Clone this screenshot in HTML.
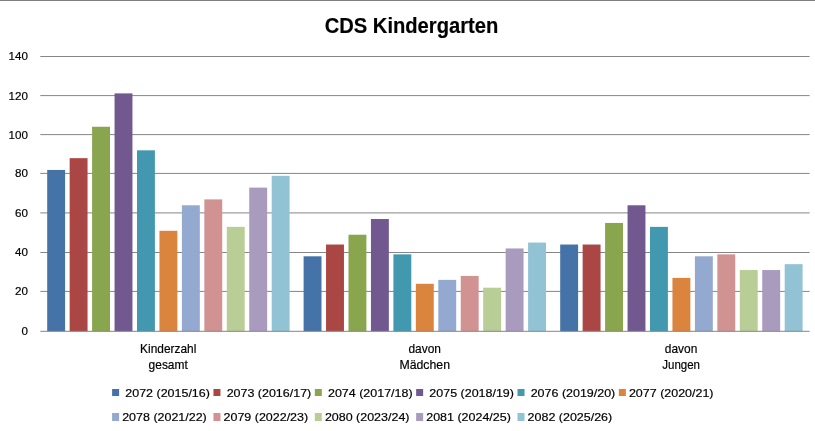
<!DOCTYPE html>
<html lang="de">
<head>
<meta charset="utf-8">
<title>CDS Kindergarten</title>
<style>
html,body{margin:0;padding:0;background:#fff;}
body{width:815px;height:431px;overflow:hidden;}
svg{display:block;}
svg text{font-family:"Liberation Sans",sans-serif;fill:#000;stroke:#000;stroke-width:0.18px;}
</style>
</head>
<body>
<svg width="815" height="431" viewBox="0 0 815 431">
<rect x="0" y="0" width="815" height="431" fill="#ffffff"/>
<rect x="0" y="0" width="815" height="1" fill="#7f7f7f"/>
<text x="411.5" y="32.5" text-anchor="middle" font-size="21.4" font-weight="bold" textLength="173.6" lengthAdjust="spacingAndGlyphs">CDS Kindergarten</text>
<g fill="#868686">
<rect x="40.3" y="290.90" width="769.3" height="1"/>
<rect x="40.3" y="252.00" width="769.3" height="1"/>
<rect x="40.3" y="212.40" width="769.3" height="1"/>
<rect x="40.3" y="172.90" width="769.3" height="1"/>
<rect x="40.3" y="134.10" width="769.3" height="1"/>
<rect x="40.3" y="95.10" width="769.3" height="1"/>
<rect x="40.3" y="56.00" width="769.3" height="1"/>
</g>
<g>
<rect x="47.20" y="169.95" width="17.9" height="161.35" fill="#4572A7"/>
<rect x="69.65" y="158.17" width="17.9" height="173.13" fill="#AA4643"/>
<rect x="92.10" y="126.76" width="17.9" height="204.54" fill="#89A54E"/>
<rect x="114.55" y="93.39" width="17.9" height="237.91" fill="#71588F"/>
<rect x="137.00" y="150.32" width="17.9" height="180.98" fill="#4198AF"/>
<rect x="159.45" y="230.79" width="17.9" height="100.51" fill="#DB843D"/>
<rect x="181.90" y="205.28" width="17.9" height="126.02" fill="#93A9CF"/>
<rect x="204.35" y="199.39" width="17.9" height="131.91" fill="#D19392"/>
<rect x="226.80" y="226.87" width="17.9" height="104.43" fill="#B9CD96"/>
<rect x="249.25" y="187.61" width="17.9" height="143.69" fill="#A99BBD"/>
<rect x="271.70" y="175.83" width="17.9" height="155.47" fill="#91C3D5"/>
<rect x="303.60" y="256.31" width="17.9" height="74.99" fill="#4572A7"/>
<rect x="326.05" y="244.53" width="17.9" height="86.77" fill="#AA4643"/>
<rect x="348.50" y="234.72" width="17.9" height="96.58" fill="#89A54E"/>
<rect x="370.95" y="219.02" width="17.9" height="112.28" fill="#71588F"/>
<rect x="393.40" y="254.35" width="17.9" height="76.95" fill="#4198AF"/>
<rect x="415.85" y="283.79" width="17.9" height="47.51" fill="#DB843D"/>
<rect x="438.30" y="279.87" width="17.9" height="51.43" fill="#93A9CF"/>
<rect x="460.75" y="275.94" width="17.9" height="55.36" fill="#D19392"/>
<rect x="483.20" y="287.72" width="17.9" height="43.58" fill="#B9CD96"/>
<rect x="505.65" y="248.46" width="17.9" height="82.84" fill="#A99BBD"/>
<rect x="528.10" y="242.57" width="17.9" height="88.73" fill="#91C3D5"/>
<rect x="560.20" y="244.53" width="17.9" height="86.77" fill="#4572A7"/>
<rect x="582.65" y="244.53" width="17.9" height="86.77" fill="#AA4643"/>
<rect x="605.10" y="222.94" width="17.9" height="108.36" fill="#89A54E"/>
<rect x="627.55" y="205.28" width="17.9" height="126.02" fill="#71588F"/>
<rect x="650.00" y="226.87" width="17.9" height="104.43" fill="#4198AF"/>
<rect x="672.45" y="277.90" width="17.9" height="53.40" fill="#DB843D"/>
<rect x="694.90" y="256.31" width="17.9" height="74.99" fill="#93A9CF"/>
<rect x="717.35" y="254.35" width="17.9" height="76.95" fill="#D19392"/>
<rect x="739.80" y="270.05" width="17.9" height="61.25" fill="#B9CD96"/>
<rect x="762.25" y="270.05" width="17.9" height="61.25" fill="#A99BBD"/>
<rect x="784.70" y="264.16" width="17.9" height="67.14" fill="#91C3D5"/>
</g>
<rect x="40.3" y="330.80" width="769.3" height="1" fill="#868686"/>
<g font-size="11.6" text-anchor="end">
<text x="27.9" y="335.2">0</text>
<text x="27.9" y="295.3">20</text>
<text x="27.9" y="256.4">40</text>
<text x="27.9" y="216.8">60</text>
<text x="27.9" y="177.3">80</text>
<text x="27.9" y="138.5">100</text>
<text x="27.9" y="99.5">120</text>
<text x="27.9" y="60.4">140</text>
</g>
<g font-size="12.1" text-anchor="middle">
<text x="168.2" y="352.5" textLength="56.2" lengthAdjust="spacingAndGlyphs">Kinderzahl</text>
<text x="168.2" y="368.7" textLength="39.2" lengthAdjust="spacingAndGlyphs">gesamt</text>
<text x="424.7" y="352.5" textLength="32.5" lengthAdjust="spacingAndGlyphs">davon</text>
<text x="424.7" y="368.7" textLength="50.6" lengthAdjust="spacingAndGlyphs">Mädchen</text>
<text x="681.1" y="352.5" textLength="32.5" lengthAdjust="spacingAndGlyphs">davon</text>
<text x="681.1" y="368.7" textLength="37.7" lengthAdjust="spacingAndGlyphs">Jungen</text>
</g>
<g font-size="11.3">
<rect x="112.10" y="389.0" width="7" height="7" fill="#4572A7"/>
<text x="125.30" y="396.9" textLength="84.6" lengthAdjust="spacingAndGlyphs">2072 (2015/16)</text>
<rect x="213.45" y="389.0" width="7" height="7" fill="#AA4643"/>
<text x="226.65" y="396.9" textLength="84.6" lengthAdjust="spacingAndGlyphs">2073 (2016/17)</text>
<rect x="314.80" y="389.0" width="7" height="7" fill="#89A54E"/>
<text x="328.00" y="396.9" textLength="84.6" lengthAdjust="spacingAndGlyphs">2074 (2017/18)</text>
<rect x="416.15" y="389.0" width="7" height="7" fill="#71588F"/>
<text x="429.35" y="396.9" textLength="84.6" lengthAdjust="spacingAndGlyphs">2075 (2018/19)</text>
<rect x="517.50" y="389.0" width="7" height="7" fill="#4198AF"/>
<text x="530.70" y="396.9" textLength="84.6" lengthAdjust="spacingAndGlyphs">2076 (2019/20)</text>
<rect x="618.85" y="389.0" width="7" height="7" fill="#DB843D"/>
<text x="628.95" y="396.9" textLength="84.6" lengthAdjust="spacingAndGlyphs">2077 (2020/21)</text>
<rect x="112.10" y="413.0" width="7" height="8" fill="#93A9CF"/>
<text x="122.20" y="421.0" textLength="84.6" lengthAdjust="spacingAndGlyphs">2078 (2021/22)</text>
<rect x="213.45" y="413.0" width="7" height="8" fill="#D19392"/>
<text x="223.55" y="421.0" textLength="84.6" lengthAdjust="spacingAndGlyphs">2079 (2022/23)</text>
<rect x="314.80" y="413.0" width="7" height="8" fill="#B9CD96"/>
<text x="324.90" y="421.0" textLength="84.6" lengthAdjust="spacingAndGlyphs">2080 (2023/24)</text>
<rect x="416.15" y="413.0" width="7" height="8" fill="#A99BBD"/>
<text x="426.25" y="421.0" textLength="84.6" lengthAdjust="spacingAndGlyphs">2081 (2024/25)</text>
<rect x="517.50" y="413.0" width="7" height="8" fill="#91C3D5"/>
<text x="527.60" y="421.0" textLength="84.6" lengthAdjust="spacingAndGlyphs">2082 (2025/26)</text>
</g>
</svg>
</body>
</html>
